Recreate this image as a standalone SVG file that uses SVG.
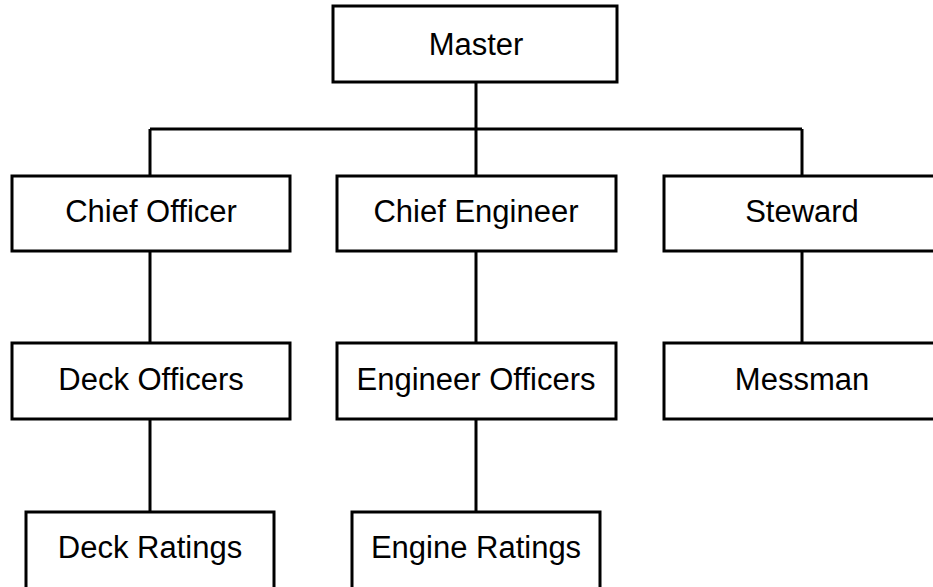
<svg xmlns="http://www.w3.org/2000/svg" width="933" height="587" viewBox="0 0 933 587">
<style>
.box{fill:#fff;stroke:#000;stroke-width:3}
.lbl{font-family:"Liberation Sans",Arial,sans-serif;font-size:31px;fill:#000;text-anchor:middle}
.con{fill:none;stroke:#000;stroke-width:3}
</style>
<rect width="933" height="587" fill="#fff"/>
<g id="connectors">
<path class="con" d="M476 82V129M150 129H802M150 129V176M476 129V176M802 129V176"/>
<path class="con" d="M150 251V343M476 251V343M802 251V343"/>
<path class="con" d="M150 419V512M476 419V512"/>
</g>
<g id="master"><rect class="box" x="333" y="6" width="284" height="76"/><text class="lbl" x="476" y="55">Master</text></g>
<g id="chief-officer"><rect class="box" x="12" y="176" width="278" height="75"/><text class="lbl" x="151" y="222">Chief Officer</text></g>
<g id="chief-engineer"><rect class="box" x="337" y="176" width="279" height="75"/><text class="lbl" x="476" y="222">Chief Engineer</text></g>
<g id="steward"><rect class="box" x="664" y="176" width="276" height="75"/><text class="lbl" x="802" y="222">Steward</text></g>
<g id="deck-officers"><rect class="box" x="12" y="343" width="278" height="76"/><text class="lbl" x="151" y="390">Deck Officers</text></g>
<g id="engineer-officers"><rect class="box" x="337" y="343" width="279" height="76"/><text class="lbl" x="476" y="390">Engineer Officers</text></g>
<g id="messman"><rect class="box" x="664" y="343" width="276" height="76"/><text class="lbl" x="802" y="390">Messman</text></g>
<g id="deck-ratings"><rect class="box" x="26" y="512" width="248" height="90"/><text class="lbl" x="150" y="558">Deck Ratings</text></g>
<g id="engine-ratings"><rect class="box" x="352" y="512" width="248" height="90"/><text class="lbl" x="476" y="558">Engine Ratings</text></g>
</svg>
